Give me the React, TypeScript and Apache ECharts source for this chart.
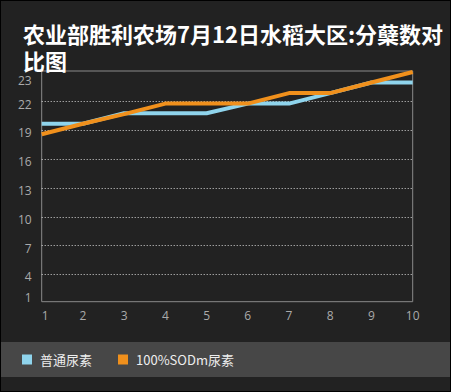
import React, { useEffect, useRef } from "react";
import * as echarts from "echarts";

const titleLine1 = "农业部胜利农场7月12日水稻大区:分蘖数对";
const titleLine2 = "比图";
const categories = ["1", "2", "3", "4", "5", "6", "7", "8", "9", "10"];
const seriesNames = ["普通尿素", "100%SODm尿素"];
const normalUrea = [19.7, 19.7, 20.8, 20.8, 20.8, 21.8, 21.8, 22.9, 24.0, 24.0];
const sodUrea = [18.6, 19.7, 20.7, 21.8, 21.8, 21.8, 22.9, 22.9, 24.0, 25.1];
const yMin = 1.15;
const yMax = 25.2;
const yGridValues = [4, 7, 10, 13, 16, 19, 22];
const yLabelValues = [1.9, 4, 7, 10, 13, 16, 19, 22, 24.45];
const yLabelTexts = ["1", "4", "7", "10", "13", "16", "19", "22", "23"];

export default function App() {
  const ref = useRef<HTMLDivElement>(null);
  useEffect(() => {
    document.body.style.margin = "0";
    const chart = echarts.init(ref.current!, null, { renderer: "svg" });
    chart.setOption({
      animation: false,
      backgroundColor: "#222222",
      title: {
        text: titleLine1 + "\n" + titleLine2,
        left: 18,
        top: 14,
        textStyle: {
          color: "#ffffff",
          fontSize: 22,
          fontWeight: "bold",
          lineHeight: 27,
          fontFamily: "'Noto Sans CJK SC', sans-serif",
        },
      },
      graphic: [
        {
          type: "rect",
          shape: { x: 0, y: 0, width: 451, height: 392 },
          style: { fill: "none", stroke: "#000", lineWidth: 2 },
          silent: true,
        },
        {
          type: "rect",
          shape: { x: 1, y: 342, width: 450, height: 35 },
          style: { fill: "#474747" },
          silent: true,
          z: -1,
        },
      ],
      legend: {
        left: 17,
        top: 348,
        icon: "rect",
        itemWidth: 10,
        itemHeight: 10,
        itemGap: 26,
        data: seriesNames,
        textStyle: {
          color: "#eeeeee",
          fontSize: 13,
          padding: [0, 0, 0, 3],
          fontFamily: "'Noto Sans CJK SC', sans-serif",
        },
      },
      grid: {
        left: 41.7,
        right: 38.3,
        top: 71,
        bottom: 90.3,
        show: true,
        borderColor: "#8a8a8a",
        borderWidth: 1,
        containLabel: false,
      },
      xAxis: {
        type: "category",
        data: categories,
        boundaryGap: false,
        axisLine: { show: false },
        axisTick: { show: false },
        splitLine: { show: false },
        axisLabel: {
          color: "#aaaaaa",
          fontSize: 12,
          margin: 8,
          alignMinLabel: "left",
          fontFamily: "'Open Sans', sans-serif",
        },
      },
      yAxis: {
        type: "value",
        min: yMin,
        max: yMax,
        axisLine: { show: false },
        axisTick: { show: false, customValues: yGridValues },
        splitLine: {
          show: true,
          lineStyle: { color: "#d8d8d8", type: [1, 2], width: 1 },
        },
        axisLabel: {
          customValues: yLabelValues,
          formatter: (v: number) => {
            const i = yLabelValues.findIndex((x) => Math.abs(x - v) < 1e-6);
            return i >= 0 ? "{a|" + yLabelTexts[i] + "}" : "";
          },
          rich: {
            a: {
              color: "#aaaaaa",
              fontSize: 12,
              padding: [5, 0, 0, 0],
              fontFamily: "'Open Sans', sans-serif",
            },
          },
          color: "#aaaaaa",
          fontSize: 12,
          margin: 10,
          fontFamily: "'Open Sans', sans-serif",
        },
      },
      series: [
        {
          name: seriesNames[0],
          type: "line",
          data: normalUrea,
          symbol: "none",
          lineStyle: { width: 4, color: "#8fd4ec" },
          itemStyle: { color: "#8fd4ec" },
        },
        {
          name: seriesNames[1],
          type: "line",
          data: sodUrea,
          symbol: "none",
          lineStyle: { width: 4, color: "#f0901c" },
          itemStyle: { color: "#f0901c" },
        },
      ],
    });
    return () => chart.dispose();
  }, []);
  return <div ref={ref} style={{ width: 451, height: 392 }} />;
}
